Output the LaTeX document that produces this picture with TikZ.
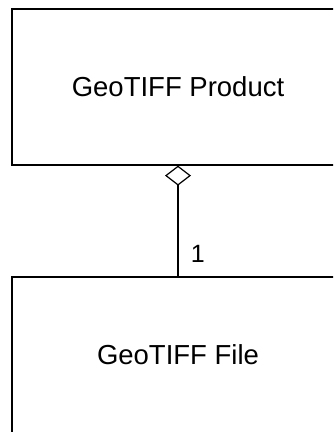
\documentclass[tikz,border=0pt]{standalone}
\usepackage{fontspec}
\setmainfont{Liberation Sans}
\usetikzlibrary{arrows.meta}

\begin{document}
\begin{tikzpicture}[x=1pt, y=1pt,
        every node/.style={font=\fontsize{27.5}{33}\selectfont},
        umlbox/.style={draw=black, line width=1.2pt, fill=white,
            minimum width=332pt, minimum height=156pt, align=center}]
      \clip (0,0) rectangle (333,-432);
      \node[umlbox] (PRODUCT) at (178,-87) {GeoTIFF Product};
      \node[umlbox] (FILE) at (178,-355) {GeoTIFF File};
      \draw[line width=1.2pt, {Diamond[open, length=20pt, width=26pt]}-]
            (PRODUCT.south) -- (FILE.north)
            node[pos=0.8, right=9pt, font=\fontsize{25}{30}\selectfont] (MULT) {1};
    \end{tikzpicture}
\end{document}
